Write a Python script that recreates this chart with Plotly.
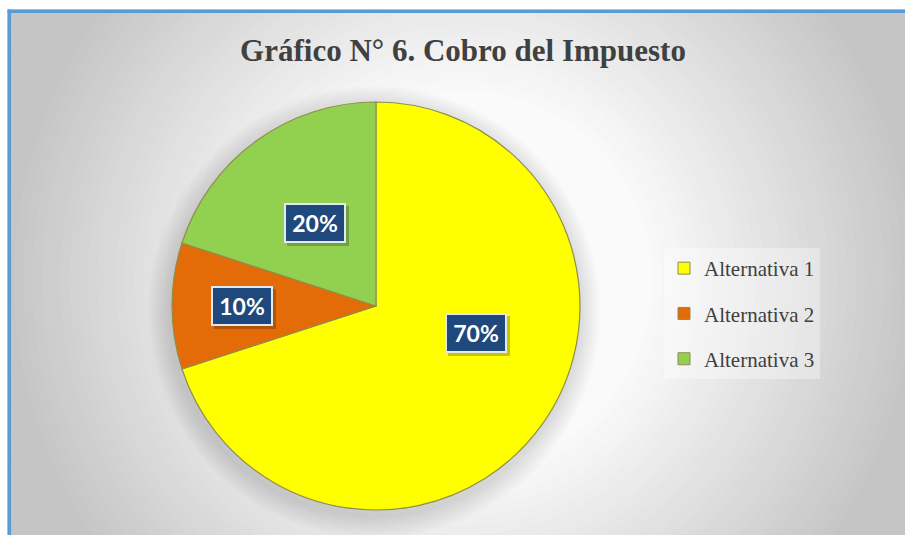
import math
import plotly.graph_objects as go

# ---------------- data ----------------
categories = ["Alternativa 1", "Alternativa 2", "Alternativa 3"]
values = [70, 10, 20]
slice_colors = ["#FFFF00", "#E36C09", "#92D050"]
title_text = "<b>Gráfico N° 6. Cobro del Impuesto</b>"

# label placement style (radius fraction, angle shift in degrees)
label_rfrac = [0.51, 0.81, 0.505]
label_shift = [-21, 0, 0]

W, H = 905, 535
pie_dom_x = [172 / W, 580 / W]
pie_dom_y = [1 - 510 / H, 1 - 102 / H]

fig = go.Figure()

fig.add_trace(go.Pie(
    labels=categories, values=values, sort=False, direction="clockwise",
    rotation=0, marker=dict(colors=slice_colors, line=dict(color="#8f8f4a", width=1.2)),
    textinfo="none", hoverinfo="label+percent", showlegend=False,
    domain=dict(x=pie_dom_x, y=pie_dom_y),
))

# legend entries (library legend, via empty traces)
for i, (c, col) in enumerate(zip(categories, slice_colors)):
    fig.add_trace(go.Scatter(
        x=[None], y=[None], mode="markers", name=c, legendgroup=f"g{i}",
        marker=dict(symbol="square", size=12, color=col,
                    line=dict(color="#8f8a55", width=1)),
    ))

shapes = []

def px_circle(cx, cy, r, fill, opacity=1.0):
    return dict(type="circle", xref="paper", yref="paper", layer="below",
                x0=(cx - r) / W, x1=(cx + r) / W,
                y0=1 - (cy + r) / H, y1=1 - (cy - r) / H,
                fillcolor=fill, line=dict(width=0), opacity=opacity)

# radial gradient background
gcx, gcy = 463, 280
steps = 40
for k in range(steps, -1, -1):
    r = 190 + (560 - 190) * k / steps
    t = min(1.0, (r - 190) / 270)
    g = round(250 - (250 - 197) * t)
    shapes.append(px_circle(gcx, gcy, r, f"rgb({g},{g},{g})"))
shapes.append(px_circle(gcx, gcy, 190, "rgb(250,250,250)"))

# pie soft shadow
pcx = (pie_dom_x[0] + pie_dom_x[1]) / 2 * W
pcy = (1 - (pie_dom_y[0] + pie_dom_y[1]) / 2) * H
R = min((pie_dom_x[1] - pie_dom_x[0]) * W, (pie_dom_y[1] - pie_dom_y[0]) * H) / 2
for d in range(22, 0, -2):
    shapes.append(px_circle(pcx - 2, pcy + 6, R + d, "black", 0.013))

# white margins + blue frame
shapes.append(dict(type="rect", xref="paper", yref="paper", layer="below",
                   x0=0, x1=1, y0=1 - 9.5 / H, y1=1, fillcolor="white", line=dict(width=0)))
shapes.append(dict(type="rect", xref="paper", yref="paper", layer="below",
                   x0=0, x1=7.5 / W, y0=0, y1=1, fillcolor="white", line=dict(width=0)))
shapes.append(dict(type="line", xref="paper", yref="paper", layer="below",
                   x0=9.3 / W, x1=9.3 / W, y0=0, y1=1 - 9.5 / H,
                   line=dict(color="#5B9BD5", width=3.5)))
shapes.append(dict(type="line", xref="paper", yref="paper", layer="below",
                   x0=7.5 / W, x1=1.01, y0=1 - 11.2 / H, y1=1 - 11.2 / H,
                   line=dict(color="#5B9BD5", width=3.5)))

# data labels in boxes, positioned from slice angles
annotations = []
total = sum(values)
cum = 0
for i, v in enumerate(values):
    mid = (cum + v / 2) / total * 360 + label_shift[i]
    cum += v
    a = math.radians(mid)
    lx = pcx + label_rfrac[i] * R * math.sin(a)
    ly = pcy - label_rfrac[i] * R * math.cos(a)
    pct = f"{round(v / total * 100)}%"
    annotations.append(dict(x=lx / W, y=1 - ly / H, xref="paper", yref="paper",
                            text=" ", showarrow=False, width=56, height=34,
                            bgcolor="rgba(0,0,0,0.22)", xshift=3, yshift=-3,
                            borderpad=3, borderwidth=0))
    annotations.append(dict(x=lx / W, y=1 - ly / H, xref="paper", yref="paper",
                            text=f"<b>{pct}</b>", showarrow=False,
                            width=50, height=28, borderpad=4,
                            bgcolor="#1F497D", bordercolor="#E4E9EF", borderwidth=2,
                            font=dict(family="Lato, Carlito, Open Sans, sans-serif",
                                      size=23, color="white")))

fig.update_layout(
    width=W, height=H, margin=dict(l=0, r=0, t=0, b=0),
    paper_bgcolor="white", plot_bgcolor="rgba(0,0,0,0)",
    title=dict(text=title_text, x=463 / W, xanchor="center", y=1 - 50 / H, yanchor="middle",
               font=dict(family="Liberation Serif, Times New Roman, serif", size=31, color="#404040")),
    xaxis=dict(visible=False), yaxis=dict(visible=False),
    showlegend=True,
    legend=dict(x=664 / W, y=1 - 248 / H, xanchor="left", yanchor="top",
                bgcolor="rgba(255,255,255,0.35)", tracegroupgap=15, itemsizing="trace",
                font=dict(family="Liberation Serif, Times New Roman, serif", size=21, color="#404040")),
    shapes=shapes, annotations=annotations,
)

fig.write_html("out.html", config={"displayModeBar": False},
               post_script="document.body.style.margin='0';document.body.style.overflow='hidden';")
